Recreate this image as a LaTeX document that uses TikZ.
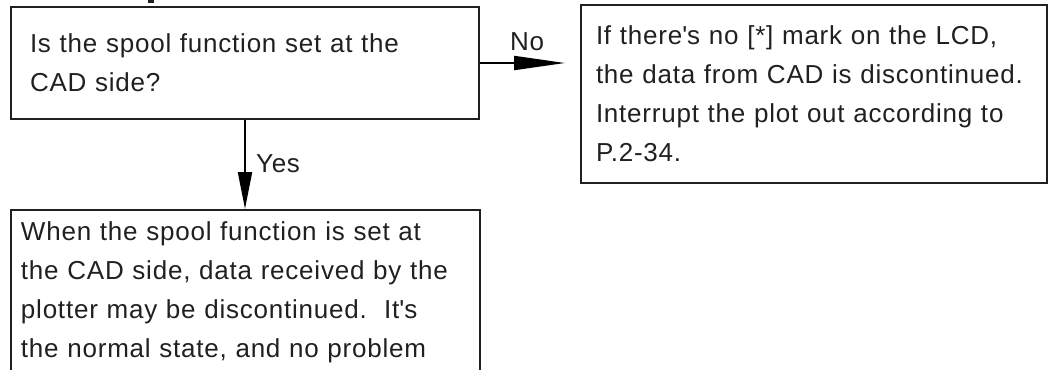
\documentclass[tikz,border=0pt]{standalone}
\usepackage{fontspec}
\setmainfont{Liberation Sans}[LetterSpace=3]
\usetikzlibrary{arrows.meta}
\definecolor{ink}{HTML}{231F20}
\begin{document}
\begin{tikzpicture}[x=0.75pt,y=-0.75pt,
  txt/.style={font=\fontsize{19.5}{29.25}\selectfont, text=ink},
  box/.style={txt, draw=ink, line width=1.5pt, align=left, anchor=north west},
  arr/.style={draw=black, line width=1.5pt},
  lbl/.style={txt, inner sep=0pt}]
\useasboundingbox (0,0) rectangle (1048,369);
\fill[ink] (148,0) rectangle (154,3);
\node[box, inner xsep=14.25pt, inner ysep=0pt, text width=322.5pt,
      minimum width=351pt, minimum height=84pt] (q) at (10,6)
  {Is the spool function set at the\\CAD side?};
\node[box, inner xsep=11.25pt, inner ysep=0pt, text width=327pt,
      minimum width=349.5pt, minimum height=133.5pt] (a) at (580,4)
  {If there\textquotesingle s no [*] mark on the LCD,\\the data from CAD is discontinued.\\Interrupt the plot out according to\\P.2-34.};
\node[box, inner xsep=7.5pt, inner ysep=9pt, text width=336.75pt,
      minimum width=351.75pt] (r) at (10,209)
  {When the spool function is set at\\the CAD side, data received by the\\plotter may be discontinued.\ \ It\textquotesingle s\\the normal state, and no problem};
\draw[arr, -{Triangle[length=38.25pt,width=10.5pt]}, shorten >=11.25pt]
  (q.east) -- (q.east -| a.west)
  node[lbl, pos=0.47, anchor=base, yshift=9.75pt] (no) {No};
\draw[arr, -{Triangle[length=27.75pt,width=10.5pt]}]
  (q.south) -- (q.south |- r.north)
  node[lbl, pos=0.593, anchor=base west, xshift=7.5pt] (yes) {Yes};
\end{tikzpicture}
\end{document}
